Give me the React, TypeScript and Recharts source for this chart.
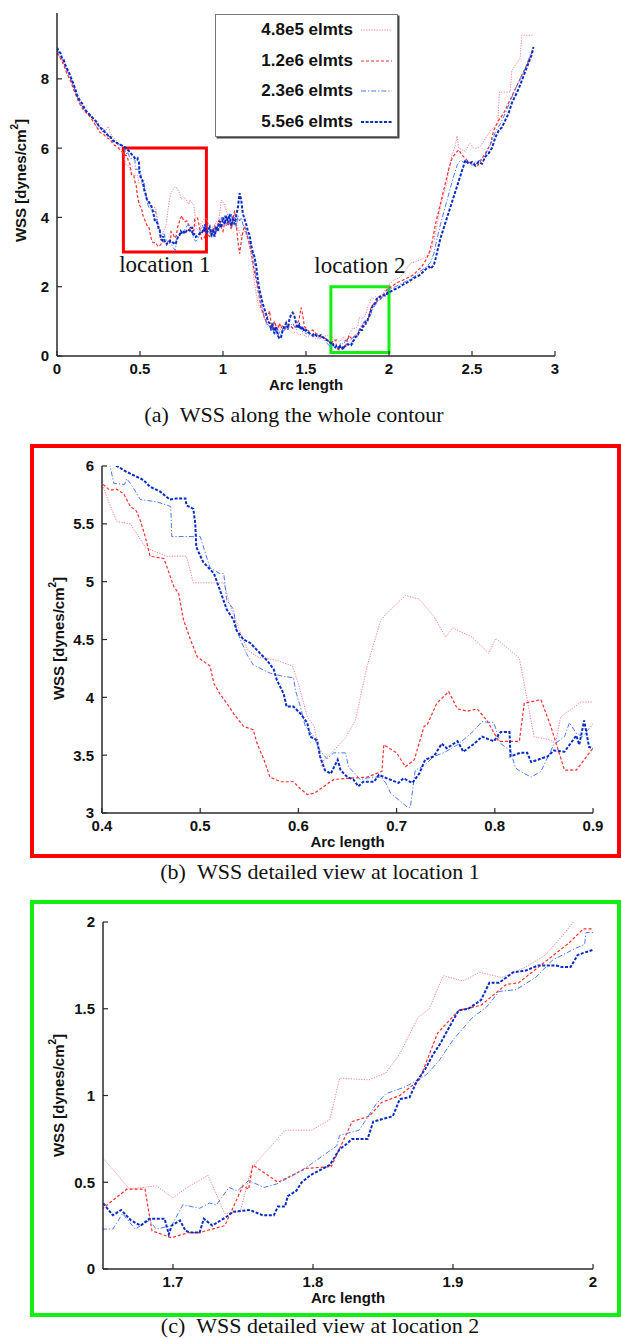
import React from 'react';
import { LineChart, Line, XAxis, YAxis, ReferenceArea, Legend } from 'recharts';

type Pt = [number, number];

// ---------- 4.8e5 elmts (pink dotted) ----------
const pinkStart: Pt[] = [[0,8.8],[0.02,8.6],[0.04,8.45],[0.06,8.2],[0.08,8.0],[0.1,7.75],[0.12,7.5],[0.14,7.3],[0.16,7.15],[0.18,7.0],[0.2,6.95],[0.22,6.8],[0.24,6.6],[0.26,6.55],[0.28,6.45],[0.3,6.55],[0.31,6.63],[0.32,6.45],[0.34,6.3],[0.36,6.2],[0.38,6.0],[0.39,5.95]];
const pinkLoc1: Pt[] = [[0.4,5.85],[0.405,5.73],[0.415,5.52],[0.429,5.5],[0.444,5.3],[0.451,5.27],[0.466,5.22],[0.486,5.22],[0.493,4.99],[0.524,4.99],[0.531,4.78],[0.548,4.41],[0.558,4.35],[0.578,4.32],[0.594,4.27],[0.6,4.12],[0.609,3.83],[0.616,3.75],[0.624,3.4],[0.626,3.46],[0.636,3.54],[0.648,3.65],[0.658,3.8],[0.67,4.27],[0.684,4.67],[0.694,4.76],[0.709,4.88],[0.723,4.85],[0.738,4.7],[0.75,4.52],[0.757,4.6],[0.777,4.52],[0.794,4.38],[0.801,4.51],[0.825,4.34],[0.84,3.66],[0.857,3.63],[0.862,3.6],[0.867,3.83],[0.888,3.96],[0.901,3.96]];
const pinkMid: Pt[] = [[0.91,3.85],[0.92,3.7],[0.93,3.6],[0.94,3.75],[0.95,3.7],[0.96,3.9],[0.97,3.8],[0.98,4.1],[0.99,4.5],[1.0,4.45],[1.01,4.35],[1.02,4.2],[1.03,4.05],[1.04,3.9],[1.05,3.8],[1.06,3.85],[1.07,3.75],[1.08,3.8],[1.09,3.7],[1.1,3.55],[1.11,3.45],[1.12,3.55],[1.13,3.6],[1.14,3.5],[1.15,3.35],[1.16,3.2],[1.17,2.9],[1.18,2.5],[1.19,2.1],[1.2,1.8],[1.21,1.55],[1.22,1.42],[1.23,1.35],[1.24,1.2],[1.25,1.1],[1.26,0.95],[1.28,0.85],[1.3,0.75],[1.32,0.9],[1.34,0.8],[1.36,0.7],[1.38,0.8],[1.4,0.75],[1.42,0.65],[1.44,0.7],[1.46,0.6],[1.48,0.65],[1.5,0.55],[1.53,0.6],[1.56,0.5],[1.6,0.55],[1.63,0.6]];
const pinkLoc2: Pt[] = [[1.65,0.64],[1.669,0.46],[1.688,0.48],[1.7,0.41],[1.71,0.47],[1.725,0.54],[1.737,0.32],[1.748,0.33],[1.755,0.55],[1.757,0.59],[1.769,0.7],[1.78,0.8],[1.799,0.8],[1.812,0.86],[1.819,1.1],[1.84,1.09],[1.852,1.13],[1.862,1.24],[1.875,1.45],[1.883,1.5],[1.893,1.69],[1.907,1.66],[1.919,1.71],[1.935,1.68],[1.952,1.74],[1.966,1.81],[1.978,1.92],[1.986,2.0]];
const pinkEnd: Pt[] = [[2.01,2.1],[2.03,2.2],[2.06,2.25],[2.09,2.4],[2.11,2.55],[2.13,2.68],[2.16,2.72],[2.19,2.78],[2.22,2.85],[2.25,3.0],[2.27,3.3],[2.29,3.8],[2.31,4.3],[2.33,4.7],[2.35,5.0],[2.36,5.4],[2.38,5.8],[2.4,6.1],[2.41,6.35],[2.42,6.0],[2.44,5.95],[2.46,5.9],[2.48,6.1],[2.49,6.13],[2.51,6.0],[2.53,6.0],[2.55,6.05],[2.57,6.2],[2.59,6.35],[2.61,6.5],[2.64,6.65],[2.655,6.72],[2.665,7.62],[2.73,7.62],[2.74,8.25],[2.77,8.45],[2.79,8.6],[2.8,9.26],[2.87,9.26]];

// ---------- 1.2e6 elmts (red dashed) ----------
const redStart: Pt[] = [[0,8.75],[0.02,8.6],[0.04,8.4],[0.06,8.15],[0.08,7.95],[0.1,7.7],[0.12,7.45],[0.14,7.25],[0.16,7.1],[0.18,7.0],[0.2,6.9],[0.22,6.75],[0.24,6.6],[0.26,6.45],[0.28,6.4],[0.3,6.3],[0.32,6.25],[0.34,6.1],[0.36,6.05],[0.38,5.95],[0.39,5.9]];
const redLoc1: Pt[] = [[0.4,5.85],[0.408,5.79],[0.415,5.8],[0.422,5.76],[0.429,5.65],[0.435,5.61],[0.439,5.53],[0.444,5.39],[0.449,5.22],[0.463,5.2],[0.466,5.13],[0.473,4.96],[0.478,4.9],[0.483,4.67],[0.49,4.5],[0.497,4.35],[0.51,4.27],[0.514,4.12],[0.52,4.03],[0.527,3.95],[0.534,3.86],[0.544,3.75],[0.554,3.72],[0.558,3.6],[0.565,3.46],[0.571,3.31],[0.582,3.27],[0.595,3.27],[0.602,3.21],[0.609,3.16],[0.616,3.17],[0.626,3.23],[0.636,3.29],[0.65,3.3],[0.67,3.31],[0.685,3.36],[0.687,3.59],[0.7,3.52],[0.709,3.4],[0.718,3.46],[0.728,3.75],[0.731,3.76],[0.741,3.95],[0.753,4.05],[0.762,3.9],[0.772,3.88],[0.782,3.9],[0.792,3.8],[0.804,3.62],[0.813,3.62],[0.825,3.62],[0.83,3.95],[0.847,3.98],[0.857,3.75],[0.871,3.37],[0.883,3.37],[0.898,3.54],[0.901,3.57]];
const redMid: Pt[] = [[0.91,3.5],[0.92,3.45],[0.93,3.65],[0.94,3.55],[0.95,3.75],[0.96,3.6],[0.97,3.85],[0.98,3.95],[0.99,3.7],[1.0,3.6],[1.01,3.85],[1.02,4.0],[1.03,3.75],[1.04,3.9],[1.05,3.65],[1.06,3.95],[1.07,4.2],[1.08,3.8],[1.09,3.3],[1.1,2.95],[1.11,3.3],[1.12,3.6],[1.13,3.75],[1.14,3.6],[1.15,3.4],[1.16,3.2],[1.17,3.0],[1.18,2.7],[1.19,2.4],[1.2,2.2],[1.21,1.9],[1.22,1.65],[1.23,1.4],[1.24,1.25],[1.25,1.1],[1.26,1.0],[1.27,1.15],[1.28,1.3],[1.29,0.95],[1.3,0.8],[1.31,1.0],[1.32,0.85],[1.33,0.75],[1.34,0.95],[1.35,0.8],[1.36,0.9],[1.37,0.75],[1.38,0.95],[1.39,0.85],[1.4,0.9],[1.42,0.8],[1.44,0.85],[1.45,0.95],[1.46,1.1],[1.47,1.4],[1.48,1.2],[1.49,0.85],[1.5,0.8],[1.52,0.7],[1.54,0.75],[1.56,0.65],[1.58,0.6],[1.6,0.55],[1.62,0.5],[1.64,0.4]];
const redLoc2: Pt[] = [[1.65,0.35],[1.667,0.46],[1.68,0.46],[1.685,0.22],[1.699,0.18],[1.711,0.21],[1.719,0.21],[1.737,0.25],[1.75,0.48],[1.754,0.46],[1.757,0.6],[1.775,0.5],[1.795,0.58],[1.813,0.59],[1.828,0.85],[1.84,0.88],[1.849,0.96],[1.862,1.0],[1.876,1.09],[1.889,1.36],[1.904,1.49],[1.92,1.52],[1.938,1.64],[1.947,1.65],[1.961,1.74],[1.983,1.88],[1.993,1.96],[2.0,1.96]];
const redEnd: Pt[] = [[2.02,2.02],[2.05,2.12],[2.08,2.18],[2.11,2.25],[2.14,2.32],[2.17,2.45],[2.2,2.6],[2.22,2.75],[2.24,2.95],[2.26,3.3],[2.28,3.8],[2.3,4.2],[2.32,4.6],[2.34,5.0],[2.36,5.4],[2.38,5.7],[2.4,5.85],[2.42,5.95],[2.44,5.8],[2.47,5.65],[2.5,5.55],[2.53,5.45],[2.56,5.7],[2.58,5.85],[2.61,6.1],[2.63,6.5],[2.66,6.8],[2.69,7.0],[2.72,7.3],[2.75,7.6],[2.78,7.9],[2.81,8.2],[2.84,8.5],[2.86,8.75]];

// ---------- 2.3e6 elmts (light blue dash-dot) ----------
const lblueStart: Pt[] = [[0,8.85],[0.02,8.65],[0.04,8.5],[0.06,8.25],[0.08,8.05],[0.1,7.8],[0.12,7.5],[0.14,7.3],[0.16,7.15],[0.18,7.05],[0.2,6.95],[0.22,6.85],[0.24,6.7],[0.26,6.6],[0.28,6.55],[0.3,6.45],[0.32,6.3],[0.34,6.25],[0.36,6.15],[0.38,6.1],[0.39,6.08]];
const lblueLoc1: Pt[] = [[0.4,6.06],[0.408,6.01],[0.412,5.85],[0.423,5.84],[0.425,5.89],[0.429,5.85],[0.439,5.71],[0.456,5.69],[0.47,5.65],[0.471,5.39],[0.5,5.39],[0.51,5.12],[0.52,5.07],[0.524,5.07],[0.527,4.84],[0.534,4.76],[0.537,4.58],[0.547,4.38],[0.554,4.28],[0.571,4.21],[0.585,4.18],[0.595,4.17],[0.597,4.06],[0.602,3.92],[0.607,3.75],[0.616,3.66],[0.619,3.59],[0.622,3.54],[0.629,3.47],[0.636,3.52],[0.648,3.52],[0.651,3.4],[0.663,3.29],[0.675,3.31],[0.684,3.31],[0.689,3.26],[0.694,3.17],[0.704,3.1],[0.711,3.05],[0.714,3.05],[0.719,3.37],[0.728,3.41],[0.738,3.49],[0.748,3.52],[0.762,3.59],[0.776,3.69],[0.787,3.79],[0.799,3.78],[0.806,3.6],[0.816,3.54],[0.821,3.39],[0.826,3.36],[0.837,3.31],[0.847,3.36],[0.86,3.59],[0.871,3.66],[0.876,3.78],[0.883,3.69],[0.889,3.66],[0.901,3.78]];
const lblueMid: Pt[] = [[0.91,3.7],[0.92,3.5],[0.93,3.65],[0.94,3.45],[0.95,3.7],[0.96,3.55],[0.97,3.85],[0.98,3.7],[0.99,4.0],[1.0,3.85],[1.01,4.05],[1.02,3.75],[1.03,4.0],[1.04,3.8],[1.05,4.1],[1.06,3.85],[1.07,4.0],[1.08,3.7],[1.09,4.05],[1.1,3.9],[1.11,4.0],[1.12,3.8],[1.13,3.7],[1.14,3.55],[1.15,3.45],[1.16,3.3],[1.17,3.1],[1.18,2.9],[1.19,2.6],[1.2,2.3],[1.21,2.0],[1.22,1.75],[1.23,1.5],[1.24,1.35],[1.25,1.1],[1.26,1.0],[1.27,0.85],[1.28,0.9],[1.29,0.7],[1.3,0.8],[1.31,0.6],[1.32,0.75],[1.33,0.55],[1.34,0.7],[1.35,0.6],[1.36,0.8],[1.37,0.7],[1.38,0.9],[1.39,0.75],[1.4,0.85],[1.42,0.95],[1.44,0.75],[1.46,0.85],[1.48,0.7],[1.5,0.65],[1.52,0.7],[1.54,0.55],[1.56,0.6],[1.58,0.5],[1.6,0.55],[1.62,0.4],[1.64,0.3]];
const lblueLoc2: Pt[] = [[1.65,0.23],[1.657,0.23],[1.664,0.32],[1.673,0.23],[1.683,0.28],[1.688,0.23],[1.699,0.25],[1.707,0.37],[1.719,0.35],[1.726,0.38],[1.731,0.37],[1.74,0.47],[1.746,0.45],[1.754,0.51],[1.765,0.47],[1.774,0.49],[1.786,0.54],[1.796,0.59],[1.81,0.67],[1.817,0.71],[1.819,0.77],[1.833,0.8],[1.845,0.95],[1.852,1.01],[1.866,1.05],[1.881,1.12],[1.89,1.2],[1.9,1.32],[1.914,1.45],[1.924,1.51],[1.933,1.6],[1.945,1.61],[1.959,1.68],[1.971,1.78],[1.988,1.85],[1.994,1.87],[1.995,1.94],[2.0,1.94]];
const lblueEnd: Pt[] = [[2.01,1.95],[2.04,2.0],[2.07,2.08],[2.1,2.15],[2.13,2.22],[2.16,2.32],[2.19,2.45],[2.22,2.55],[2.25,2.7],[2.27,2.95],[2.29,3.4],[2.31,3.8],[2.33,4.15],[2.35,4.5],[2.37,4.85],[2.39,5.2],[2.41,5.5],[2.43,5.65],[2.45,5.6],[2.47,5.65],[2.5,5.5],[2.52,5.6],[2.55,5.65],[2.58,5.8],[2.61,6.1],[2.64,6.45],[2.67,6.7],[2.7,7.0],[2.73,7.35],[2.76,7.7],[2.79,8.0],[2.82,8.3],[2.84,8.55],[2.86,8.8]];

// ---------- 5.5e6 elmts (dark blue dashed) ----------
const dblueStart: Pt[] = [[0,8.9],[0.01,8.8],[0.02,8.75],[0.03,8.6],[0.04,8.55],[0.05,8.4],[0.06,8.3],[0.07,8.2],[0.08,8.1],[0.09,7.95],[0.1,7.85],[0.11,7.7],[0.12,7.55],[0.13,7.45],[0.14,7.35],[0.15,7.3],[0.16,7.2],[0.17,7.1],[0.18,7.05],[0.19,7.0],[0.2,6.95],[0.21,6.9],[0.22,6.85],[0.23,6.8],[0.24,6.75],[0.25,6.65],[0.26,6.6],[0.27,6.55],[0.28,6.5],[0.29,6.45],[0.3,6.4],[0.31,6.35],[0.32,6.35],[0.33,6.25],[0.34,6.2],[0.35,6.2],[0.36,6.15],[0.37,6.12],[0.38,6.1],[0.39,6.08]];
const dblueLoc1: Pt[] = [[0.4,6.05],[0.415,6.0],[0.425,5.95],[0.442,5.88],[0.449,5.82],[0.459,5.78],[0.469,5.71],[0.476,5.72],[0.485,5.72],[0.486,5.66],[0.493,5.63],[0.495,5.5],[0.496,5.3],[0.503,5.17],[0.514,5.07],[0.52,4.93],[0.527,4.76],[0.534,4.67],[0.537,4.58],[0.544,4.5],[0.551,4.47],[0.561,4.38],[0.568,4.32],[0.575,4.24],[0.578,4.15],[0.585,4.03],[0.588,3.92],[0.595,3.92],[0.602,3.86],[0.609,3.78],[0.612,3.66],[0.619,3.63],[0.622,3.49],[0.627,3.37],[0.633,3.34],[0.64,3.46],[0.643,3.37],[0.65,3.31],[0.656,3.29],[0.661,3.23],[0.666,3.27],[0.677,3.27],[0.682,3.33],[0.69,3.3],[0.702,3.26],[0.707,3.3],[0.716,3.26],[0.723,3.34],[0.729,3.46],[0.738,3.49],[0.746,3.6],[0.751,3.56],[0.762,3.62],[0.768,3.53],[0.779,3.6],[0.787,3.66],[0.799,3.62],[0.806,3.7],[0.815,3.7],[0.816,3.49],[0.826,3.52],[0.833,3.52],[0.837,3.44],[0.854,3.49],[0.86,3.54],[0.871,3.53],[0.883,3.67],[0.886,3.59],[0.891,3.8],[0.896,3.57],[0.901,3.56]];
const dblueMid: Pt[] = [[0.91,3.62],[0.92,3.72],[0.93,3.5],[0.94,3.62],[0.95,3.45],[0.96,3.75],[0.97,3.6],[0.98,3.9],[0.99,3.7],[1.0,4.0],[1.01,3.8],[1.02,4.05],[1.03,3.85],[1.04,4.1],[1.05,3.75],[1.06,3.95],[1.07,3.8],[1.08,4.05],[1.09,4.3],[1.1,4.7],[1.11,4.5],[1.12,4.1],[1.13,3.95],[1.14,3.8],[1.15,3.6],[1.16,3.5],[1.17,3.2],[1.18,3.0],[1.19,2.85],[1.2,2.6],[1.21,2.2],[1.22,1.9],[1.23,1.7],[1.24,1.5],[1.25,1.35],[1.26,1.2],[1.27,1.0],[1.28,0.95],[1.29,0.8],[1.3,0.9],[1.31,0.65],[1.32,0.85],[1.33,0.6],[1.34,0.5],[1.35,0.55],[1.36,0.75],[1.37,0.85],[1.38,0.95],[1.39,0.8],[1.4,1.05],[1.41,1.2],[1.42,1.25],[1.43,1.15],[1.44,0.95],[1.45,0.8],[1.46,0.9],[1.47,0.75],[1.48,0.85],[1.49,0.7],[1.5,0.75],[1.52,0.65],[1.54,0.6],[1.55,0.65],[1.57,0.55],[1.59,0.6],[1.61,0.5],[1.63,0.45],[1.64,0.4]];
const dblueLoc2: Pt[] = [[1.65,0.38],[1.657,0.31],[1.663,0.34],[1.67,0.28],[1.677,0.25],[1.683,0.29],[1.688,0.29],[1.694,0.29],[1.697,0.2],[1.699,0.25],[1.705,0.28],[1.709,0.22],[1.713,0.21],[1.719,0.21],[1.722,0.29],[1.728,0.25],[1.738,0.3],[1.743,0.33],[1.755,0.34],[1.764,0.31],[1.772,0.31],[1.775,0.36],[1.78,0.36],[1.782,0.42],[1.788,0.45],[1.792,0.5],[1.798,0.54],[1.805,0.57],[1.812,0.6],[1.819,0.69],[1.824,0.72],[1.828,0.75],[1.839,0.75],[1.843,0.85],[1.857,0.88],[1.862,0.98],[1.869,0.99],[1.874,1.08],[1.88,1.15],[1.886,1.24],[1.891,1.3],[1.895,1.36],[1.904,1.49],[1.911,1.5],[1.92,1.55],[1.926,1.65],[1.933,1.65],[1.943,1.71],[1.952,1.72],[1.961,1.75],[1.973,1.75],[1.978,1.74],[1.984,1.74],[1.989,1.81],[2.0,1.84]];
const dblueEnd: Pt[] = [[2.01,1.86],[2.03,1.92],[2.05,1.95],[2.07,2.02],[2.1,2.1],[2.12,2.15],[2.15,2.25],[2.18,2.32],[2.2,2.4],[2.22,2.5],[2.24,2.58],[2.25,2.52],[2.27,2.62],[2.28,2.8],[2.29,3.0],[2.31,3.4],[2.33,3.7],[2.35,4.0],[2.37,4.3],[2.39,4.6],[2.41,4.9],[2.43,5.2],[2.45,5.5],[2.46,5.65],[2.48,5.55],[2.5,5.6],[2.52,5.5],[2.54,5.6],[2.56,5.55],[2.58,5.75],[2.6,5.85],[2.62,6.0],[2.64,6.3],[2.66,6.5],[2.68,6.6],[2.7,6.8],[2.72,7.0],[2.74,7.3],[2.76,7.5],[2.78,7.7],[2.8,7.95],[2.82,8.2],[2.84,8.45],[2.86,8.7],[2.87,8.92]];

// ---------- tick labels ----------
const ticksAX = [0, 0.5, 1, 1.5, 2, 2.5, 3];
const ticksAY = [0, 2, 4, 6, 8];
const ticksBX = [0.4, 0.5, 0.6, 0.7, 0.8, 0.9];
const ticksBY = [3, 3.5, 4, 4.5, 5, 5.5, 6];
const ticksCX = [1.7, 1.8, 1.9, 2];
const ticksCY = [0, 0.5, 1, 1.5, 2];

const SANS = '"Liberation Sans", Arial, Helvetica, sans-serif';
const SERIF = '"Liberation Serif", "Times New Roman", serif';
const AXIS = '#2a2a2a';
const TICK_M = 7;

const toData = (...parts: Pt[][]) => parts.flat().map(([x, y]) => ({ x, y }));

const SERIES = [
  { name: '4.8e5 elmts', color: '#ff7b98', width: 1, dash: '1.2 1.4', data: toData(pinkStart, pinkLoc1, pinkMid, pinkLoc2, pinkEnd) },
  { name: '1.2e6 elmts', color: '#ff2e2e', width: 1.2, dash: '3 2', data: toData(redStart, redLoc1, redMid, redLoc2, redEnd) },
  { name: '2.3e6 elmts', color: '#4a78ff', width: 1, dash: '5 2 1.2 2', data: toData(lblueStart, lblueLoc1, lblueMid, lblueLoc2, lblueEnd) },
  { name: '5.5e6 elmts', color: '#0a2cc4', width: 2, dash: '3 1.6', data: toData(dblueStart, dblueLoc1, dblueMid, dblueLoc2, dblueEnd) },
];

const XTick = (props: any) => {
  const { x, y, payload } = props;
  const ay = y - TICK_M;
  return (
    <g>
      <line x1={x} x2={x} y1={ay} y2={ay - 5} stroke={AXIS} strokeWidth={1.2} />
      <text x={x} y={y} dy="0.72em" textAnchor="middle" fontFamily={SANS} fontWeight={700} fontSize={15} fill="#111">
        {payload.value}
      </text>
    </g>
  );
};

const YTick = (props: any) => {
  const { x, y, payload } = props;
  const ax = x + TICK_M;
  return (
    <g>
      <line x1={ax} x2={ax + 5} y1={y} y2={y} stroke={AXIS} strokeWidth={1.2} />
      <text x={x - 1} y={y} dy="0.36em" textAnchor="end" fontFamily={SANS} fontWeight={700} fontSize={15} fill="#111">
        {payload.value}
      </text>
    </g>
  );
};

const makeXTitle = () => (p: any) => {
  const vb = p.viewBox || { x: 0, y: 0, width: 0, height: 0 };
  return (
    <text x={vb.x + vb.width / 2} y={vb.y + 34} textAnchor="middle" fontFamily={SANS} fontWeight={700} fontSize={15} fill="#111">
      Arc length
    </text>
  );
};

const makeYTitle = (dx: number, dy: number) => (p: any) => {
  const vb = p.viewBox || { x: 0, y: 0, width: 0, height: 0 };
  const cx = vb.x + vb.width - dx;
  const cy = vb.y + vb.height / 2 + dy;
  return (
    <text x={cx} y={cy} transform={`rotate(-90 ${cx} ${cy})`} textAnchor="middle" dominantBaseline="central" fontFamily={SANS} fontWeight={700} fontSize={15} fill="#111">
      WSS [dynes/cm<tspan dy="-6" fontSize={10}>2</tspan><tspan dy="6">]</tspan>
    </text>
  );
};

const LegendBox = () => (
  <div style={{ width: 183, height: 123, boxSizing: 'border-box', border: '1px solid #777', boxShadow: '1.5px 1.5px 0 #444', background: '#fff', position: 'relative', fontFamily: SANS, fontWeight: 700, fontSize: 17, color: '#111' }}>
    {SERIES.map((s, i) => (
      <div key={s.name} style={{ position: 'absolute', left: 0, top: 5 + i * 30.5, height: 20, width: 183, display: 'flex', alignItems: 'center' }}>
        <span style={{ width: 137, textAlign: 'right', lineHeight: '20px', whiteSpace: 'nowrap' }}>{s.name}</span>
        <svg width={46} height={20} style={{ display: 'block' }}>
          <line x1={8} x2={39} y1={10} y2={10} stroke={s.color} strokeWidth={s.width} strokeDasharray={s.dash} />
        </svg>
      </div>
    ))}
  </div>
);

type PanelProps = {
  width: number; height: number;
  margin: { top: number; right: number; bottom: number; left: number };
  xDomain: [number, number]; yDomain: [number, number];
  xTicks: number[]; yTicks: number[];
  yTitleDx: number; yTitleDy: number;
  children?: React.ReactNode;
};

// Axes reserve 1px (an axis of size 0 is not drawn); margins compensate.
const Panel = ({ width, height, margin, xDomain, yDomain, xTicks, yTicks, yTitleDx, yTitleDy, children }: PanelProps) => (
  <LineChart width={width} height={height}
    margin={{ top: margin.top, right: margin.right, left: margin.left - 1, bottom: margin.bottom - 1 }}>
    <XAxis type="number" dataKey="x" domain={xDomain} ticks={xTicks} interval={0} allowDataOverflow height={1}
      tickSize={0} tickMargin={TICK_M} tickLine={false} axisLine={{ stroke: AXIS, strokeWidth: 1.5 }} tick={XTick}
      label={{ content: makeXTitle() }} />
    <YAxis type="number" dataKey="y" domain={yDomain} ticks={yTicks} interval={0} allowDataOverflow width={1}
      tickSize={0} tickMargin={TICK_M} tickLine={false} axisLine={{ stroke: AXIS, strokeWidth: 1.5 }} tick={YTick}
      label={{ content: makeYTitle(yTitleDx, yTitleDy) }} />
    {children}
    {SERIES.map((s) => (
      <Line key={s.name} data={s.data} dataKey="y" name={s.name} type="linear" stroke={s.color} strokeWidth={s.width}
        strokeDasharray={s.dash} dot={false} activeDot={false} isAnimationActive={false} />
    ))}
  </LineChart>
);

const captionStyle = (cx: number, cy: number): React.CSSProperties => ({
  position: 'absolute', left: cx, top: cy, transform: 'translate(-50%, -50%)', whiteSpace: 'nowrap',
  fontFamily: SERIF, fontSize: 22, lineHeight: '24px', color: '#111',
});

export default function App() {
  return (
    <div style={{ position: 'absolute', left: 0, top: 0, width: 621, height: 1339, background: '#fff', overflow: 'hidden' }}>
      {/* (a) */}
      <div style={{ position: 'absolute', left: 0, top: 0 }}>
        <Panel width={621} height={400} margin={{ top: 13, left: 57, right: 66, bottom: 44 }}
          xDomain={[0, 3]} yDomain={[0, 9.9]} xTicks={ticksAX} yTicks={ticksAY} yTitleDx={37} yTitleDy={-4}>
          <ReferenceArea x1={0.4} x2={0.9} y1={3} y2={6} fill="none" stroke="#ff0000" strokeWidth={3} ifOverflow="visible"
            label={{ value: 'location 1', position: 'bottom', offset: 4, fontSize: 23, fontFamily: SERIF, fill: '#111' }} />
          <ReferenceArea x1={1.65} x2={2} y1={0.1} y2={2} fill="none" stroke="#11ee11" strokeWidth={3} ifOverflow="visible"
            label={{ value: 'location 2', position: 'top', offset: 14, fontSize: 23, fontFamily: SERIF, fill: '#111' }} />
          <Legend content={LegendBox} layout="horizontal" verticalAlign="middle" align="center"
            wrapperStyle={{ left: 215, top: 14, width: 183, height: 123 }} />
        </Panel>
      </div>
      <div style={captionStyle(294, 415)}>(a)&nbsp;&nbsp;WSS along the whole contour</div>

      {/* (b) */}
      <div style={{ position: 'absolute', left: 30, top: 444, width: 591, height: 414, boxSizing: 'border-box', border: '4px solid #ff0000' }} />
      <div style={{ position: 'absolute', left: 0, top: 440 }}>
        <Panel width={621} height={414} margin={{ top: 26, left: 102, right: 28, bottom: 41 }}
          xDomain={[0.4, 0.9]} yDomain={[3, 6]} xTicks={ticksBX} yTicks={ticksBY} yTitleDx={44} yTitleDy={-1} />
      </div>
      <div style={captionStyle(320, 872)}>(b)&nbsp;&nbsp;WSS detailed view at location 1</div>

      {/* (c) */}
      <div style={{ position: 'absolute', left: 30, top: 900, width: 591, height: 417, boxSizing: 'border-box', border: '4px solid #11ee11' }} />
      <div style={{ position: 'absolute', left: 0, top: 900 }}>
        <Panel width={621} height={412} margin={{ top: 22, left: 103, right: 28, bottom: 43 }}
          xDomain={[1.65, 2]} yDomain={[0, 2]} xTicks={ticksCX} yTicks={ticksCY} yTitleDx={45} yTitleDy={0} />
      </div>
      <div style={captionStyle(320, 1326)}>(c)&nbsp;&nbsp;WSS detailed view at location 2</div>
    </div>
  );
}
